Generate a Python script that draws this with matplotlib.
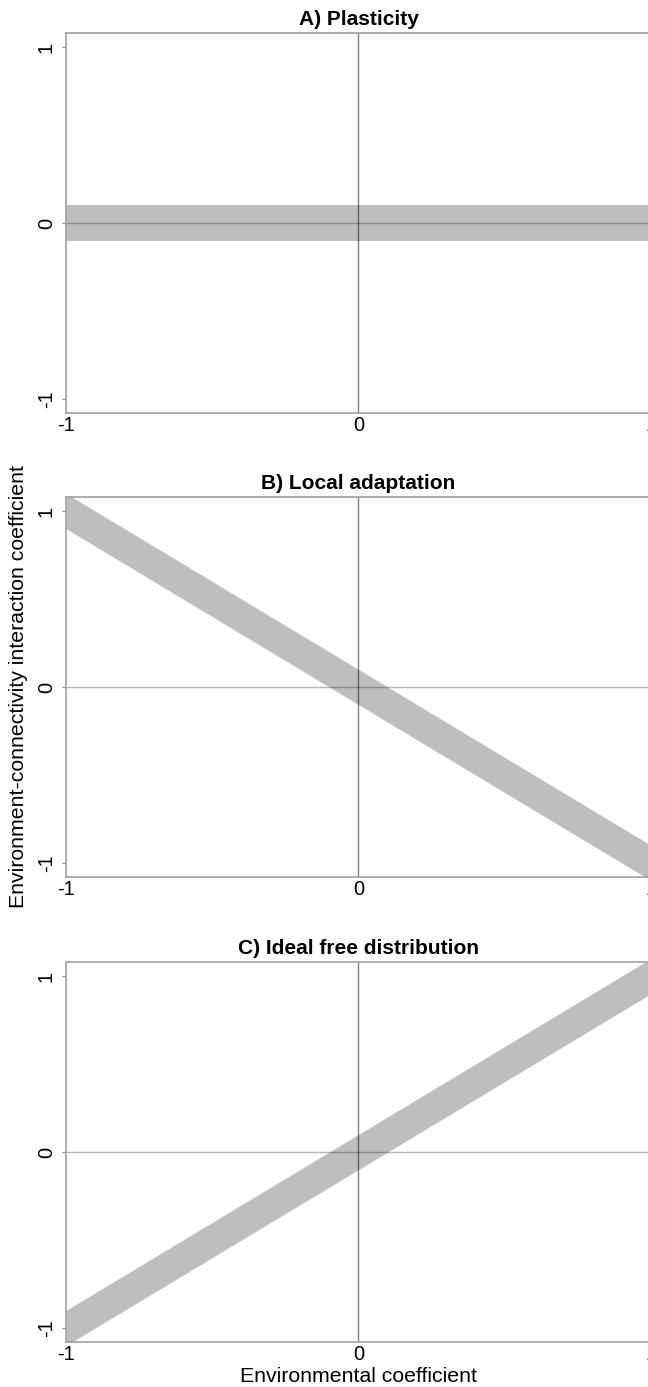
import matplotlib
matplotlib.use("Agg")
import matplotlib.pyplot as plt
import numpy as np

plt.rcParams['font.family'] = ['Liberation Sans', 'DejaVu Sans']

titles = ["A) Plasticity", "B) Local adaptation", "C) Ideal free distribution"]
slopes = [0.0, -1.0, 1.0]
intercepts = [0.0, 0.0, 0.0]
half_width = 0.1
x_ends = [-1.0, 1.0]
ticks = [-1, 0, 1]
tick_labels = ["-1", "0", "1"]
xlabel = "Environmental coefficient"
ylabel = "Environment-connectivity interaction coefficient"

W, H = 648, 1387
fig = plt.figure(figsize=(W / 100, H / 100), dpi=100)

left = 66 / W
width = (651 - 66) / W
tops = [33, 497, 962]
ph = 380

band_color = "#bebebe"
spine_color = "#a0a0a0"

for i, (t, s, b) in enumerate(zip(titles, slopes, intercepts)):
    y0 = 1 - (tops[i] + ph) / H
    ax = fig.add_axes([left, y0, width, ph / H])
    xs = np.array(x_ends)
    ys = s * xs + b
    ax.fill_between(xs, ys - half_width, ys + half_width, color=band_color, lw=0, zorder=1)
    ax.axhline(0, color="black", alpha=0.28, lw=1.0, zorder=2)
    ax.axvline(0, color="black", alpha=0.5, lw=1.0, zorder=2)
    ax.set_xlim(-1, 1)
    ax.set_ylim(-1.08, 1.08)
    ax.set_xticks(ticks)
    ax.set_xticklabels(tick_labels, fontsize=14.5)
    ax.set_yticks(ticks)
    ax.set_yticklabels(tick_labels, fontsize=14.5, rotation=90, va="center")
    ax.tick_params(axis="x", length=0, pad=2)
    ax.tick_params(axis="y", length=3, width=0.8, color="#909090", pad=4.3)
    for sp in ax.spines.values():
        sp.set_color(spine_color)
        sp.set_linewidth(1.2)
    ax.set_title(t, fontsize=15, fontweight="bold", pad=6)

fig.text(19 / W, 1 - 686 / H, ylabel, rotation=90, ha="center", va="center", fontsize=15.3)
fig.text(359 / W, 1 - 1382 / H, xlabel, ha="center", va="baseline", fontsize=15.3)

fig.savefig("out.png", dpi=100)
